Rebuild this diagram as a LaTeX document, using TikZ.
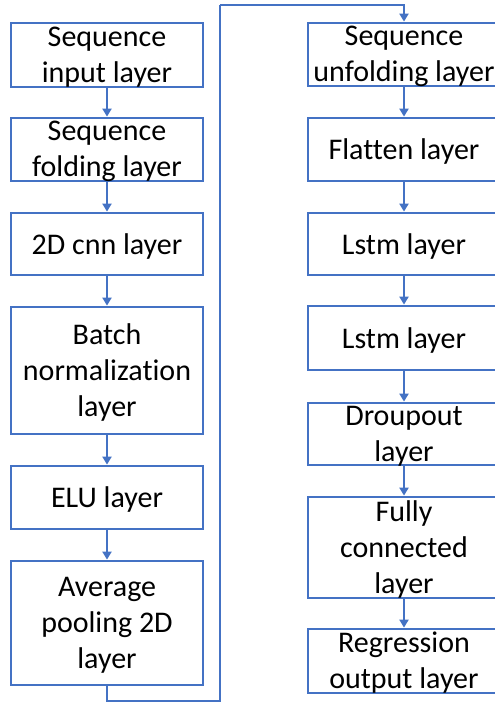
\documentclass[tikz,border=0pt]{standalone}
\usepackage{fontspec}
\setmainfont[Ligatures=NoCommon]{Carlito}
\usetikzlibrary{arrows.meta}
\definecolor{flowblue}{HTML}{4472C4}
\tikzset{
  layerbox/.style={draw=flowblue, line width=2.8pt, rectangle, minimum width=192pt, inner sep=0pt},
  lbl/.style={align=center, inner sep=0pt, yshift=-2pt, font=\fontsize{30}{36}\selectfont, text=black},
  conn/.style={draw=flowblue, line width=2pt, -{Triangle[width=9pt,length=8pt]}},
  link/.style={draw=flowblue, line width=2pt}
}
\begin{document}
\begin{tikzpicture}[x=1pt, y=-1pt]
\clip (0,0) rectangle (495,704);
\fill[white] (0,0) rectangle (495,704);

% left column
\node[layerbox, minimum height=64pt]  (l1) at (107,55) {};
\node[layerbox, minimum height=63pt]  (l2) at (107,149.5) {};
\node[layerbox, minimum height=62pt]  (l3) at (107,244) {};
\node[layerbox, minimum height=127pt] (l4) at (107,370.5) {};
\node[layerbox, minimum height=63pt]  (l5) at (107,497.5) {};
\node[layerbox, minimum height=124pt] (l6) at (107,623) {};

\node[lbl] (tl1) at (l1) {Sequence\\input layer};
\node[lbl] (tl2) at (l2) {Sequence\\folding layer};
\node[lbl] (tl3) at (l3) {2D cnn layer};
\node[lbl] (tl4) at (l4) {Batch\\normalization\\layer};
\node[lbl] (tl5) at (l5) {ELU layer};
\node[lbl] (tl6) at (l6) {Average\\pooling 2D\\layer};

% right column
\node[layerbox, minimum height=63pt]  (r1) at (404,54.5) {};
\node[layerbox, minimum height=63pt]  (r2) at (404,149.5) {};
\node[layerbox, minimum height=62pt]  (r3) at (404,244) {};
\node[layerbox, minimum height=64pt]  (r4) at (404,338) {};
\node[layerbox, minimum height=62pt]  (r5) at (404,434) {};
\node[layerbox, minimum height=101pt] (r6) at (404,547.5) {};
\node[layerbox, minimum height=64pt]  (r7) at (404,661) {};

\node[lbl] (tr1) at (r1) {Sequence\\unfolding layer};
\node[lbl] (tr2) at (r2) {Flatten layer};
\node[lbl] (tr3) at (r3) {Lstm layer};
\node[lbl] (tr4) at (r4) {Lstm layer};
\node[lbl] (tr5) at (r5) {Droupout\\layer};
\node[lbl] (tr6) at (r6) {Fully\\connected\\layer};
\node[lbl] (tr7) at (r7) {Regression\\output layer};

% arrows within each column
\foreach \a/\b in {l1/l2, l2/l3, l3/l4, l4/l5, l5/l6,
                   r1/r2, r2/r3, r3/r4, r4/r5, r5/r6, r6/r7}
  \draw[conn] (\a.south) -- (\b.north);

% link from the bottom of the left column to the top of the right column
\coordinate (lowturn) at (220,701);
\coordinate (highturn) at (220,5);
\draw[link] (l6.south) |- (lowturn) -- (highturn);
\draw[conn] (highturn) -| (r1.north);
\end{tikzpicture}
\end{document}
